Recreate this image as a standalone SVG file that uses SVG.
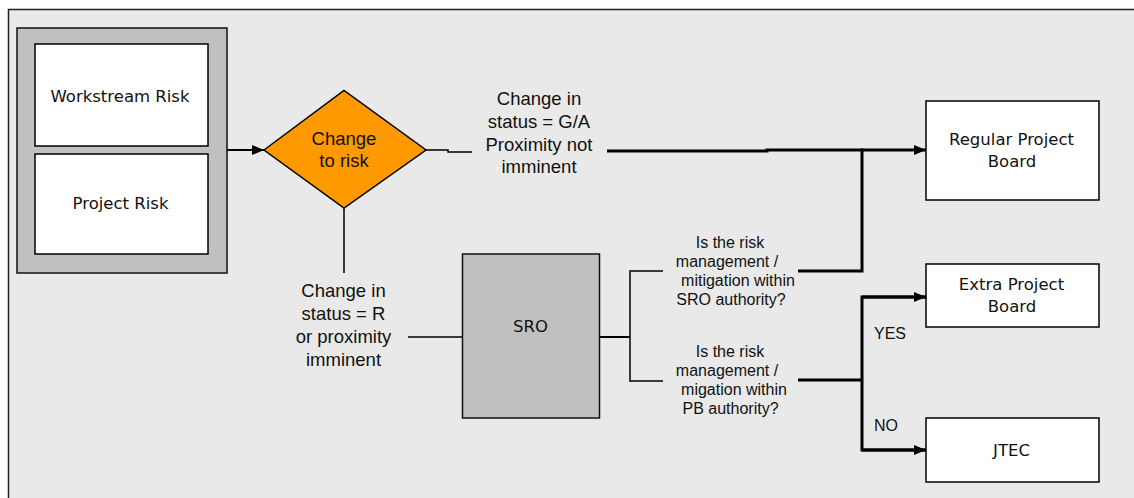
<svg xmlns="http://www.w3.org/2000/svg" width="1134" height="498" viewBox="0 0 1134 498">
<style>
.tah{font-family:"DejaVu Sans",Verdana,sans-serif;font-size:16.5px;fill:#111;text-anchor:middle}
.ar{font-family:"Liberation Sans",Arial,sans-serif;font-size:18.5px;fill:#111;text-anchor:middle}
.q{font-family:"Liberation Sans",Arial,sans-serif;font-size:16px;fill:#111;text-anchor:middle}
.yn{font-family:"Liberation Sans",Arial,sans-serif;font-size:16px;fill:#111}
.box{fill:#fff;stroke:#000;stroke-width:1.5}
.gray{fill:#c0c0c0;stroke:#111;stroke-width:1.5}
.thin{stroke:#000;stroke-width:1.5;fill:none}
.mid{stroke:#000;stroke-width:2;fill:none}
.thick{stroke:#000;stroke-width:3;fill:none}
</style>
<defs>
<marker id="ah" viewBox="0 0 12 10" refX="12" refY="5" markerWidth="12" markerHeight="10" markerUnits="userSpaceOnUse" orient="auto">
<path d="M0,0 L12,5 L0,10 z" fill="#000"/>
</marker>
</defs>
<rect x="0" y="0" width="1134" height="498" fill="#fff"/>
<rect id="frame" x="8.5" y="9.5" width="1140" height="500" fill="#e9e9e9" stroke="#222" stroke-width="1.5"/>

<g id="connectors">
<line class="mid" x1="227" y1="150" x2="264" y2="150" marker-end="url(#ah)"/>
<polyline class="thin" points="426,150 448,150 448,152 472,152"/>
<polyline class="thick" points="607,151 767,151 767,150 862,150"/>
<line class="thick" x1="862" y1="150" x2="926" y2="150" marker-end="url(#ah)"/>
<polyline class="thick" points="798,271 862,271 862,148.5"/>
<line class="thin" x1="344" y1="208" x2="344" y2="273"/>
<line class="thin" x1="408" y1="337" x2="462" y2="337"/>
<line class="mid" x1="599" y1="337" x2="630" y2="337"/>
<polyline class="thin" points="663,271 630,271 630,381 663,381"/>
<line class="thick" x1="798" y1="380" x2="862" y2="380"/>
<polyline class="thick" points="926,297 862,297 862,450 926,450"/>
<line class="thick" x1="862" y1="297" x2="926" y2="297" marker-end="url(#ah)"/>
<line class="thick" x1="862" y1="450" x2="926" y2="450" marker-end="url(#ah)"/>
</g>

<g id="risk-group">
<rect class="gray" x="17" y="28" width="210" height="245"/>
</g>
<g id="workstream-risk">
<rect class="box" x="35" y="44" width="173" height="102"/>
<text class="tah" x="120" y="102">Workstream Risk</text>
</g>
<g id="project-risk">
<rect class="box" x="35" y="154" width="173" height="100"/>
<text class="tah" x="120.5" y="209">Project Risk</text>
</g>

<g id="change-to-risk">
<polygon points="264,150 344,90.5 426,150 344,208" fill="#ff9900" stroke="#000" stroke-width="1.5"/>
<text class="ar" x="344" y="145">Change</text>
<text class="ar" x="344" y="167">to risk</text>
</g>

<g id="label-ga">
<text class="ar" x="539" y="105">Change in</text>
<text class="ar" x="539" y="128">status = G/A</text>
<text class="ar" x="539" y="151">Proximity not</text>
<text class="ar" x="539" y="173">imminent</text>
</g>

<g id="label-r">
<text class="ar" x="343.5" y="297">Change in</text>
<text class="ar" x="343.5" y="320">status = R</text>
<text class="ar" x="343.5" y="343">or proximity</text>
<text class="ar" x="343.5" y="366">imminent</text>
</g>

<g id="sro">
<rect class="gray" x="462.5" y="254" width="137" height="164"/>
<text class="tah" x="530.5" y="331.5">SRO</text>
</g>

<g id="q-sro">
<text class="q" x="730" y="248">Is the risk</text>
<text class="q" x="727" y="267">management /</text>
<text class="q" x="738" y="286">mitigation within</text>
<text class="q" x="731" y="305">SRO authority?</text>
</g>

<g id="q-pb">
<text class="q" x="730" y="357">Is the risk</text>
<text class="q" x="727" y="376">management /</text>
<text class="q" x="734" y="395">migation within</text>
<text class="q" x="730.5" y="414">PB authority?</text>
</g>

<g id="regular-project-board">
<rect class="box" x="926" y="101" width="173" height="99"/>
<text class="tah" x="1011.5" y="145">Regular Project</text>
<text class="tah" x="1012" y="167">Board</text>
</g>

<g id="extra-project-board">
<rect class="box" x="926" y="264" width="173" height="63"/>
<text class="tah" x="1011.5" y="290">Extra Project</text>
<text class="tah" x="1012" y="312">Board</text>
</g>

<g id="jtec">
<rect class="box" x="926" y="418" width="173" height="64"/>
<text class="tah" x="1011.5" y="455.5">JTEC</text>
</g>

<g id="yes-no">
<text class="yn" x="874" y="339">YES</text>
<text class="yn" x="874" y="430.5">NO</text>
</g>
</svg>
